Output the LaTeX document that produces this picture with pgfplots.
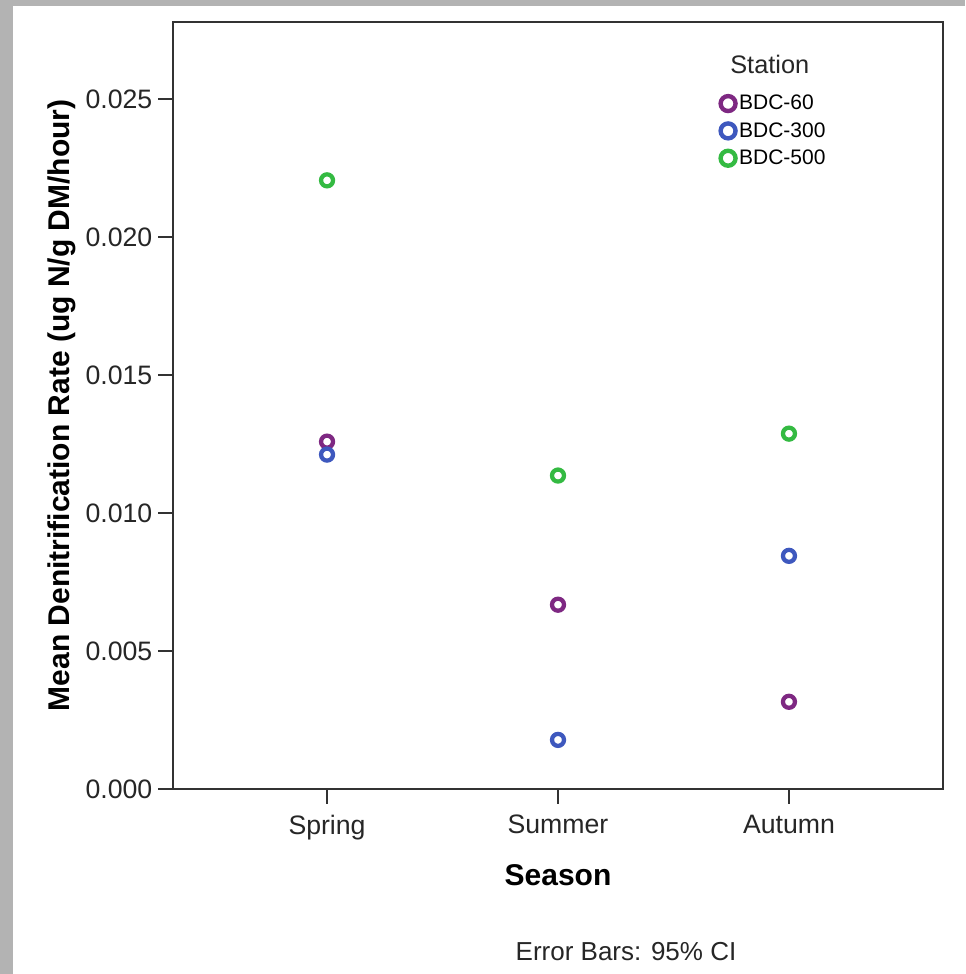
\documentclass[border=0pt]{standalone}
\usepackage{pgfplots}
\pgfplotsset{compat=1.18}
\usepackage{fontspec}
\setmainfont{Liberation Sans}
\definecolor{purp}{RGB}{126,40,130}
\definecolor{blu}{RGB}{62,88,190}
\definecolor{grn}{RGB}{52,186,66}
\definecolor{frame}{RGB}{179,179,179}
\definecolor{axc}{RGB}{50,50,50}
\begin{document}
\begin{tikzpicture}
\path[use as bounding box] (0,0) rectangle (723.75pt,730.5pt);
\fill[frame] (0,0) rectangle (9.4pt,730.5pt);
\fill[frame] (0,726pt) rectangle (723.75pt,730.5pt);
\begin{axis}[
  at={(129.75pt,138.75pt)}, anchor=south west,
  scale only axis, width=577.5pt, height=575.25pt,
  xmin=-0.667, xmax=2.667, ymin=0, ymax=0.0278,
  xtick={0,1,2}, xticklabels={Spring,Summer,Autumn},
  ytick={0,0.005,0.01,0.015,0.02,0.025},
  scaled y ticks=false,
  /pgf/number format/fixed, /pgf/number format/fixed zerofill,
  /pgf/number format/precision=3, /pgf/number format/assume math mode=true,
  tick label style={font=\fontsize{20}{24}\selectfont, text=black!85},
  tick align=outside, tick pos=lower, major tick length=11pt,
  every tick/.style={axc, line width=1.5pt},
  axis line style={axc, line width=1.5pt},
  ylabel={Mean Denitrification Rate (ug N/g DM/hour)},
  xlabel={Season},
  label style={font=\bfseries\fontsize{22.5}{26}\selectfont},
  xlabel style={at={(axis description cs:0.5,-0.112)}, anchor=center},
  ylabel style={at={(axis description cs:-0.144,0.5)}, anchor=center},
  yticklabel style={xshift=-1pt},
  xticklabel style={yshift=-5pt},
  legend style={draw=none, fill=none, at={(axis description cs:0.708,0.858)}, anchor=west, font=\fontsize{15.75}{18}\selectfont, row sep=6pt, inner sep=0pt, nodes={inner sep=1pt}},
  legend cell align=left,
  clip=false,
]
\addplot[only marks, mark=o, purp, mark size=4.5pt, line width=3.2pt,
  legend image code/.code={\draw[purp, line width=3.3pt] (0.3pt,0) circle (5.6pt);}]
  coordinates {(0,0.01259) (1,0.00668) (2,0.00316)};
\addlegendentry{BDC-60}
\addplot[only marks, mark=o, blu, mark size=4.5pt, line width=3.2pt,
  legend image code/.code={\draw[blu, line width=3.3pt] (0.3pt,0) circle (5.6pt);}]
  coordinates {(0,0.01212) (1,0.00178) (2,0.00845)};
\addlegendentry{BDC-300}
\addplot[only marks, mark=o, grn, mark size=4.5pt, line width=3.2pt,
  legend image code/.code={\draw[grn, line width=3.3pt] (0.3pt,0) circle (5.6pt);}]
  coordinates {(0,0.02206) (1,0.01136) (2,0.01288)};
\addlegendentry{BDC-500}
\node[font=\fontsize{19}{22}\selectfont, text=black!85] at (axis description cs:0.775,0.944) {Station};
\end{axis}
\node[font=\fontsize{19.5}{22}\selectfont, text=black!85] at (469.5pt,16.5pt) {Error Bars: 95\% CI};
\end{tikzpicture}
\end{document}
